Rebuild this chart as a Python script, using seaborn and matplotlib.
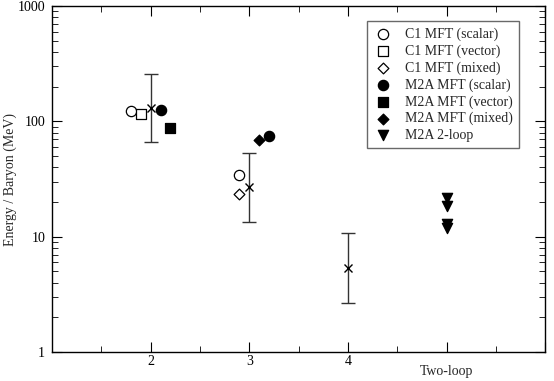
import numpy as np
import pandas as pd
import matplotlib
matplotlib.use('Agg')
import matplotlib.pyplot as plt
import seaborn as sns
from matplotlib.ticker import FixedLocator, MultipleLocator, LogLocator, NullFormatter

sns.set_style('ticks')
plt.rcParams['font.family'] = ['Liberation Serif', 'DejaVu Serif']

# data
c1_scalar_x = [1.8, 2.9]
c1_scalar_y = [123, 34]
c1_vector_x = [1.9]
c1_vector_y = [115]
c1_mixed_x = [2.9]
c1_mixed_y = [23.5]
m2a_scalar_x = [2.1, 3.2]
m2a_scalar_y = [125, 75]
m2a_vector_x = [2.2]
m2a_vector_y = [87]
m2a_mixed_x = [3.1]
m2a_mixed_y = [69]
m2a_2loop_x = [5, 5, 5, 5]
m2a_2loop_y = [21.5, 18.5, 12.8, 11.8]

# estimates with error bars
est_x = [2, 3, 4]
est_y = [130, 27, 5.4]
est_lo = [66, 13.4, 2.65]
est_hi = [257, 53, 10.8]

xtick_pos = [2, 3, 4, 5, 6]
xtick_lab = ['2', '3', '4', '', '']

series = [
    ('C1 MFT (scalar)', c1_scalar_x, c1_scalar_y, 'o', 'white', 55),
    ('C1 MFT (vector)', c1_vector_x, c1_vector_y, 's', 'white', 45),
    ('C1 MFT (mixed)', c1_mixed_x, c1_mixed_y, 'D', 'white', 30),
    ('M2A MFT (scalar)', m2a_scalar_x, m2a_scalar_y, 'o', 'black', 55),
    ('M2A MFT (vector)', m2a_vector_x, m2a_vector_y, 's', 'black', 45),
    ('M2A MFT (mixed)', m2a_mixed_x, m2a_mixed_y, 'D', 'black', 30),
    ('M2A 2-loop', m2a_2loop_x, m2a_2loop_y, 'v', 'black', 55),
]

fig = plt.figure(figsize=(5.54, 3.81), dpi=100)
ax = fig.add_axes([0.094, 0.076, 0.89, 0.908])

err = np.array([np.array(est_y) - np.array(est_lo), np.array(est_hi) - np.array(est_y)])
ax.errorbar(est_x, est_y, yerr=err, fmt='x', color='black', ecolor='#333333',
            elinewidth=1.0, capsize=5, markersize=6, mew=1.0, zorder=2)

for name, xs, ys, m, fc, s in series:
    sns.scatterplot(x=xs, y=ys, marker=m, color=fc, edgecolor='black',
                    linewidth=0.9, s=s, label=name, ax=ax, zorder=3)

ax.set_yscale('log')
ax.set_xlim(1, 6)
ax.set_ylim(1, 1000)
ax.xaxis.set_major_locator(FixedLocator(xtick_pos))
ax.set_xticklabels(xtick_lab)
ax.xaxis.set_minor_locator(MultipleLocator(0.5))
ax.set_yticks([1, 10, 100, 1000])
ax.set_yticklabels(['1', '10', '100', '1000'])
ax.yaxis.set_minor_locator(LogLocator(base=10, subs=np.arange(2, 10)))
ax.yaxis.set_minor_formatter(NullFormatter())
ax.tick_params(which='both', direction='in', top=True, right=True, labelsize=10, colors='black')
ax.tick_params(which='major', length=7)
ax.tick_params(which='minor', length=4)
ax.tick_params(axis='x', which='major', pad=2)
ax.tick_params(axis='y', which='major', pad=5)
for sp in ax.spines.values():
    sp.set_linewidth(1.0)
    sp.set_color('black')

ax.set_ylabel('Energy / Baryon (MeV)', fontsize=10, va='center')
ax.yaxis.set_label_coords(-0.085, 0.5)
ax.text(5, -0.038, 'Two-loop', transform=ax.get_xaxis_transform(), ha='center', va='top', fontsize=10)

leg = ax.legend(loc='upper right', bbox_to_anchor=(0.947, 0.957), borderaxespad=0, fontsize=10,
                frameon=True, fancybox=False, edgecolor='#444444', handletextpad=0.9,
                labelspacing=0.25, borderpad=0.45, handlelength=1.4)
leg.get_frame().set_linewidth(1.0)

fig.savefig('out.png', dpi=100)
